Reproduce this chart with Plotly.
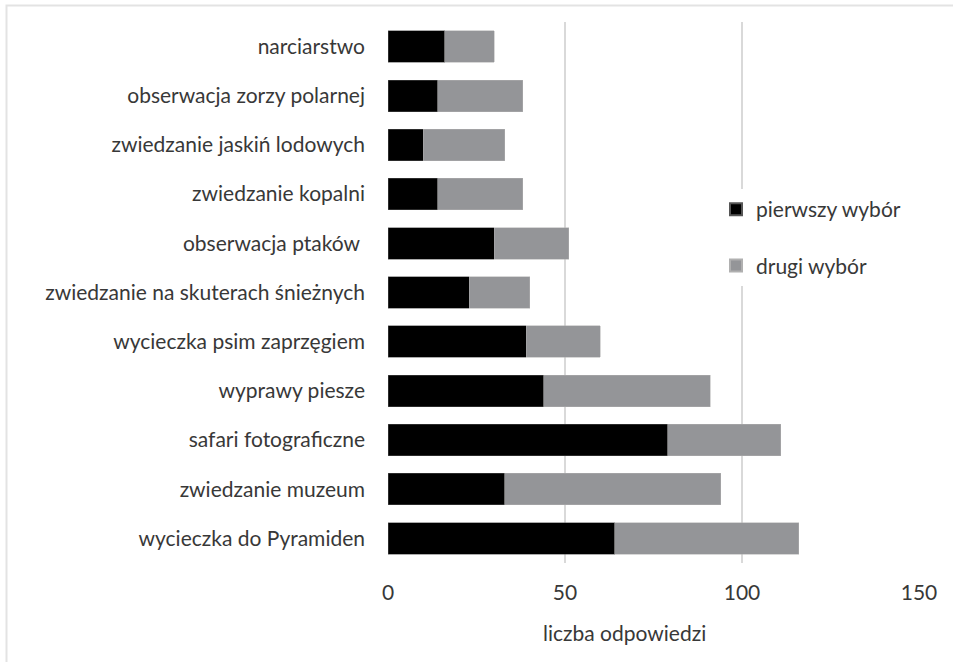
import plotly.graph_objects as go

categories = [
    "narciarstwo",
    "obserwacja zorzy polarnej",
    "zwiedzanie jaskiń lodowych",
    "zwiedzanie kopalni",
    "obserwacja ptaków\u00a0",
    "zwiedzanie na skuterach śnieżnych",
    "wycieczka psim zaprzęgiem",
    "wyprawy piesze",
    "safari fotograficzne",
    "zwiedzanie muzeum",
    "wycieczka do Pyramiden",
]
first_choice = [16, 14, 10, 14, 30, 23, 39, 44, 79, 33, 64]
second_choice = [14, 24, 23, 24, 21, 17, 21, 47, 32, 61, 52]
x_ticks = [0, 50, 100, 150]

FONT = "Lato"
FS = 21
TXT = "#383838"

fig = go.Figure()
fig.add_trace(go.Bar(
    y=categories, x=first_choice, orientation="h", name="pierwszy wybór",
    marker=dict(color="#000000", line=dict(color="#555555", width=0.5)),
    legendgroup="a",
))
fig.add_trace(go.Bar(
    y=categories, x=second_choice, orientation="h", name="drugi wybór",
    marker=dict(color="#949598", line=dict(color="#b0b0b0", width=0.5)),
    legendgroup="b",
))

L, R, T, B = 388, 34, 22, 99
W, H = 953, 662
pw, ph = W - L - R, H - T - B

def px_x(p):
    return (p - L) / pw

def px_y(p):
    return (H - B - p) / ph

fig.update_layout(
    width=W, height=H,
    margin=dict(l=L, r=R, t=T, b=B),
    barmode="stack",
    bargap=0.36,
    plot_bgcolor="white",
    paper_bgcolor="white",
    font=dict(family=FONT, size=FS, color=TXT),
    legend=dict(
        x=px_x(716), y=px_y(189), xanchor="left", yanchor="top",
        bgcolor="white", font=dict(family=FONT, size=FS, color=TXT),
        tracegroupgap=26, itemsizing="constant",
    ),
    xaxis=dict(
        range=[0, 150], tickvals=x_ticks, ticktext=[str(v) for v in x_ticks],
        showgrid=True, gridcolor="#d9d9d9", gridwidth=1.5,
        zeroline=False, showline=False, ticks="",
        ticklabelstandoff=15,
        tickfont=dict(family=FONT, size=FS, color=TXT),
        fixedrange=True,
    ),
    yaxis=dict(
        autorange="reversed", showgrid=False, zeroline=False, showline=False,
        ticks="", ticklabelstandoff=22,
        tickfont=dict(family=FONT, size=FS, color=TXT),
    ),
    annotations=[dict(
        text="liczba odpowiedzi", x=px_x(624), y=px_y(632), xref="paper", yref="paper",
        xanchor="center", yanchor="middle", showarrow=False,
        font=dict(family=FONT, size=FS, color=TXT),
    )],
    shapes=[dict(
        type="rect", xref="paper", yref="paper",
        x0=px_x(6.5), x1=px_x(990), y0=px_y(700), y1=px_y(5.5),
        line=dict(color="#e3e3e3", width=2), layer="below",
    )],
)

fig.write_html(
    "out.html",
    config={"displayModeBar": False},
    post_script="document.body.style.margin='0';",
)
